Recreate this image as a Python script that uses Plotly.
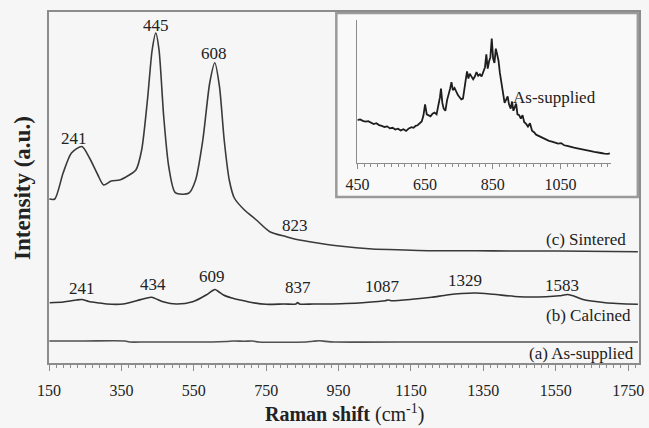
import plotly.graph_objects as go

# ---- Main Raman spectra (vertically offset, arbitrary intensity units) ----
sintered_shift = [151, 166, 189, 212, 241, 262, 285, 301, 322, 345, 367, 390, 406, 422,
                  435, 445, 454, 467, 481, 499, 536, 555, 575, 594, 608, 621, 634, 648,
                  662, 690, 723, 760, 806, 823, 870, 952, 1043, 1134, 1207, 1331, 1421,
                  1558, 1777]
sintered_int = [164, 164, 190, 210, 216.5, 205, 188, 178, 182, 183, 187, 193, 213, 263,
                313, 330, 313, 246, 196, 170.3, 169.7, 183, 223, 280, 300.3, 276.3, 223,
                183, 165, 153, 143, 131.3, 126.3, 124.5, 121.3, 117, 114, 113, 112.3,
                112.3, 112, 112, 111.3]

calcined_shift = [152, 190, 226, 241, 260, 290, 310, 355, 392, 415, 434, 450, 465, 502,
                  547, 584, 600, 609, 618, 632, 655, 678, 710, 750, 800, 832, 837, 842,
                  880, 924, 970, 1016, 1060, 1079, 1087, 1095, 1153, 1207, 1249, 1290,
                  1329, 1377, 1449, 1523, 1560, 1583, 1600, 1623, 1687, 1777]
calcined_int = [60.3, 61, 63, 63.5, 61.5, 60, 59, 59, 62.3, 64.5, 65.7, 63.5, 61.3, 59,
                61.3, 68, 72, 73.5, 71.5, 68, 65, 63, 60.5, 58.7, 59, 59, 60.5, 59,
                59, 59, 59.5, 60.3, 61.5, 62.3, 63, 62.3, 63.7, 65.7, 68, 69.5,
                70, 68.7, 66.3, 66.3, 67.2, 68.5, 67, 63.7, 60.3, 58.7]

supplied_shift = [151, 250, 360, 372, 420, 600, 640, 660, 690, 713, 730, 860, 880, 898,
                  915, 940, 1200, 1500, 1777]
supplied_int = [22, 22, 22, 21, 21, 21, 21.5, 22, 21.8, 22, 21, 21, 21.8, 22.3,
                21.6, 21, 21, 21, 21]

# ---- Inset: as-supplied spectrum, 450-1200 cm-1 ----
inset_shift = [450, 458, 466, 474, 482, 490, 498, 506, 514, 522, 530, 538, 546, 554, 562,
               570, 578, 586, 594, 602, 610, 616, 622, 628, 634, 640, 645, 650, 655, 660,
               666, 672, 678, 684, 690, 694, 697, 701, 705, 710, 715, 719, 724, 728, 732,
               737, 742, 747, 752, 757, 762, 766, 770, 774, 778, 782, 787, 792, 797, 802,
               807, 812, 817, 822, 827, 831, 835, 839, 843, 847, 851, 855, 859, 863, 867,
               871, 875, 880, 885, 890, 894, 898, 903, 907, 911, 915, 919, 923, 928, 933,
               938, 943, 948, 954, 960, 966, 972, 978, 985, 992, 1000, 1008, 1016, 1025,
               1034, 1043, 1052, 1061, 1070, 1080, 1090, 1100, 1110, 1120, 1130, 1140,
               1150, 1160, 1170, 1180, 1190, 1196]
inset_int = [30, 30.5, 29.5, 29, 29.3, 28, 27.2, 27.8, 26.5, 26, 25.2, 25.6, 24.2, 24.6, 23.4,
             24, 22.8, 23.6, 22.4, 24.2, 25, 24.6, 26, 26.4, 27.5, 29, 33, 41, 34, 33.5,
             32.6, 34.5, 35.2, 34, 40, 46, 52, 42, 38, 36.5, 44, 47, 52, 56.5, 51,
             52.5, 49.5, 47.5, 46, 44.5, 45, 53, 58, 64, 59, 62.5, 60, 58.5, 60.5, 63.5,
             61, 62, 60.5, 64, 67, 76, 66, 71, 74, 87, 73, 70, 80, 76, 71.5,
             63, 56, 48, 42, 44.5, 46.5, 41, 38, 43, 36.5, 39, 41.5, 34, 33.5, 31,
             33.5, 28.5, 27.5, 25.5, 27.8, 22.5, 21.5, 19.8, 19, 18.2, 17, 16.3, 15.5, 15,
             14.2, 13.6, 13.9, 12.4, 12, 11.2, 10.7, 10.2, 9.6, 9.2, 8.6, 8.3,
             7.8, 7.2, 7, 6.6, 6.4, 6.8]

main_ticks = [150, 350, 550, 750, 950, 1150, 1350, 1550, 1750]
inset_ticks = [450, 650, 850, 1050]

# peak labels: (text, x, y) in data coordinates of the main axes
sintered_labels = [("241", 218, 225), ("445", 446, 338), ("608", 605, 310), ("823", 829, 138)]
calcined_labels = [("241", 240, 75), ("434", 436, 79), ("609", 599, 87), ("837", 838, 76),
                   ("1087", 1071, 77), ("1329", 1299, 83), ("1583", 1568, 78)]

SERIF = "Liberation Serif, Times New Roman, serif"
INK = "#222222"
AXIS = "#8c8c8c"
BG = "#f6f6f6"

fig = go.Figure()

for xs, ys, col in [(supplied_shift, supplied_int, "#505050"),
                    (calcined_shift, calcined_int, "#333333"),
                    (sintered_shift, sintered_int, "#3a3a3a")]:
    fig.add_trace(go.Scatter(x=xs, y=ys, mode="lines",
                             line=dict(color=col, width=1.6, shape="spline", smoothing=0.7),
                             showlegend=False, hoverinfo="skip"))

fig.add_trace(go.Scatter(x=inset_shift, y=inset_int, mode="lines", xaxis="x2", yaxis="y2",
                         line=dict(color="#1e1e1e", width=1.8),
                         showlegend=False, hoverinfo="skip"))

annotations = []
for t, x, y in sintered_labels + calcined_labels:
    annotations.append(dict(x=x, y=y, xref="x", yref="y", text=t, showarrow=False,
                            font=dict(family=SERIF, size=17, color=INK)))

for t, x, y in [("(c) Sintered", 1750, 124), ("(b) Calcined", 1764, 48),
                ("(a) As-supplied", 1771, 10)]:
    annotations.append(dict(x=x, y=y, xref="x", yref="y", text=t, showarrow=False,
                            xanchor="right", font=dict(family=SERIF, size=17, color=INK)))

annotations.append(dict(x=1032, y=46, xref="x2", yref="y2", text="As-supplied",
                        showarrow=False, font=dict(family=SERIF, size=17, color=INK)))

annotations.append(dict(x=-0.045, y=0.5, xref="paper", yref="paper",
                        xanchor="center", yanchor="middle",
                        text="<b>Intensity (a.u.)</b>", textangle=-90, showarrow=False,
                        font=dict(family=SERIF, size=23, color=INK)))
annotations.append(dict(x=0.5, y=-0.145, xref="paper", yref="paper",
                        xanchor="center", yanchor="middle",
                        text="<b>Raman shift</b> (cm<sup>-1</sup>)", showarrow=False,
                        font=dict(family=SERIF, size=20, color=INK)))

fig.update_layout(
    width=649, height=428,
    margin=dict(l=49, r=5, t=12, b=65),
    paper_bgcolor=BG, plot_bgcolor="rgba(0,0,0,0)",
    font=dict(family=SERIF, color=INK),
    annotations=annotations,
    shapes=[dict(type="rect", xref="paper", yref="paper", x0=0.487, x1=0.998,
                 y0=0.473, y1=0.997, line=dict(color="#9a9a9a", width=2.5),
                 fillcolor="#f9f9f9", layer="below")],
    xaxis=dict(range=[150, 1780], tickmode="array", tickvals=main_ticks,
               ticks="outside", ticklen=6, tickwidth=1.2, tickcolor=AXIS,
               minor=dict(dtick=20, tick0=150, ticks="outside", ticklen=3, tickcolor=AXIS),
               showline=True, linecolor=AXIS, linewidth=1.5, mirror=True,
               showgrid=False, zeroline=False, ticklabelstandoff=6,
               tickfont=dict(family=SERIF, size=16, color=INK)),
    yaxis=dict(range=[0, 351], showticklabels=False, ticks="", showgrid=False,
               zeroline=False, showline=True, linecolor=AXIS, linewidth=1.5, mirror=True),
    xaxis2=dict(domain=[0.5227, 0.9529], anchor="y2", range=[450, 1200],
                tickmode="array", tickvals=inset_ticks,
                ticks="outside", ticklen=5, tickwidth=1.2, tickcolor=AXIS,
                minor=dict(dtick=20, tick0=450, ticks="outside", ticklen=3, tickcolor=AXIS),
                showline=True, linecolor=AXIS, linewidth=1.2, showgrid=False,
                zeroline=False, ticklabelstandoff=2,
                tickfont=dict(family=SERIF, size=16, color=INK)),
    yaxis2=dict(domain=[0.5698, 0.9772], anchor="x2", range=[0, 100],
                showticklabels=False, ticks="", showgrid=False, zeroline=False,
                showline=True, linecolor=AXIS, linewidth=1.2),
)

fig.write_html("out.html")
